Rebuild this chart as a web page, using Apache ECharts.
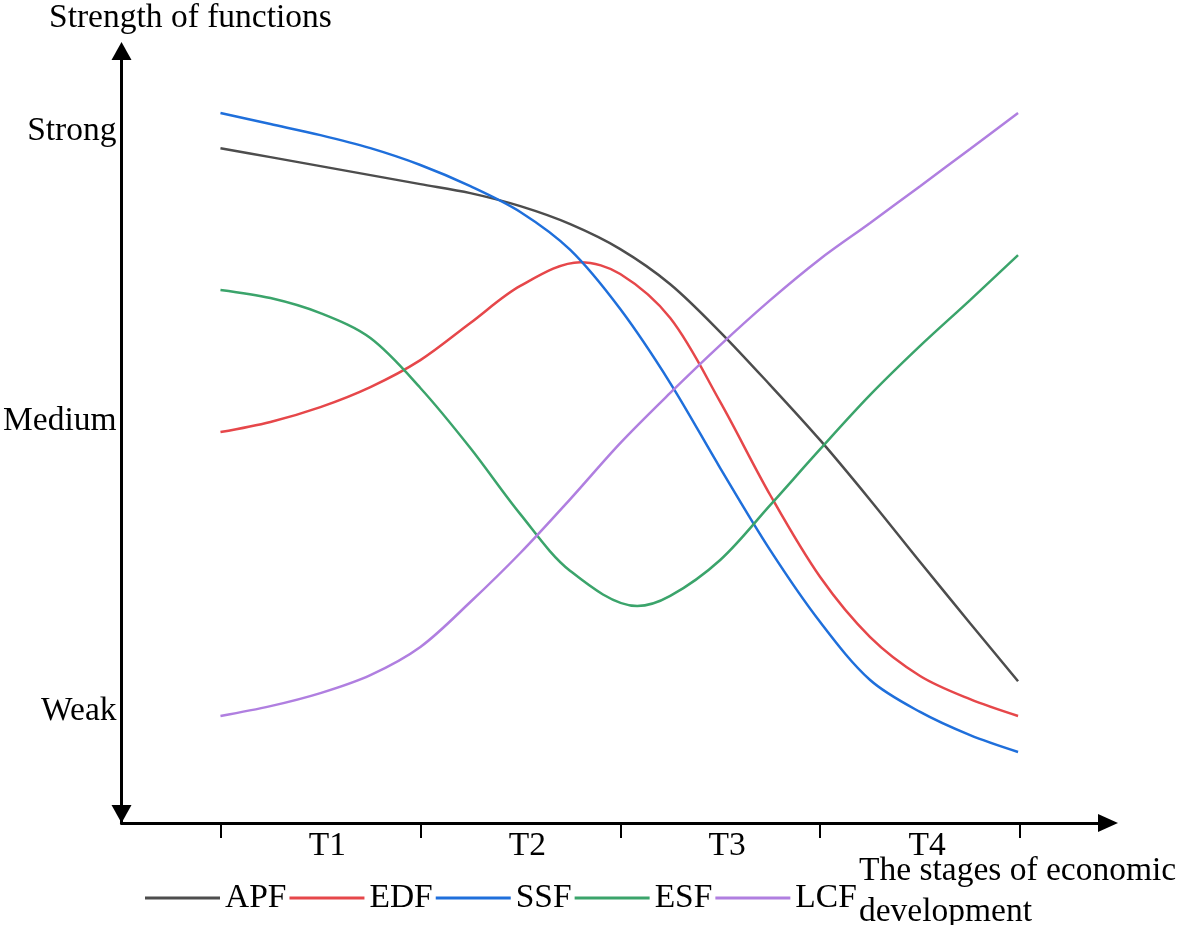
<!doctype html>
<meta charset="utf-8">
<style>
  html, body {
    margin: 0;
    height: 100%;
    background: #fff;
  }

  #chart {
    width: 1184px;
    height: 925px;
  }
</style>
<script src="https://cdn.jsdelivr.net/npm/echarts@6/dist/echarts.min.js"></script>

<div id="chart"></div>

<script>
  // x: position along the stages (0..4 = stage boundaries), y: 1 = Weak, 2 = Medium, 3 = Strong
  const stagePos = [0, 0.25, 0.5, 0.75, 1, 1.25, 1.5, 1.75, 2, 2.25, 2.5, 2.75, 3, 3.25, 3.5, 3.75, 3.99]
  const edfX = [0, 0.25, 0.5, 0.75, 1, 1.25, 1.5, 1.8, 2, 2.25, 2.5, 2.75, 3, 3.25, 3.5, 3.75, 3.99]
  const esfX = [0, 0.25, 0.5, 0.75, 1, 1.25, 1.5, 1.75, 2.085, 2.25, 2.5, 2.75, 3, 3.25, 3.5, 3.75, 3.99]

  const apf = [2.941, 2.91, 2.879, 2.848, 2.817, 2.786, 2.741, 2.679, 2.593, 2.472, 2.307, 2.124, 1.934, 1.728, 1.514, 1.303, 1.103]
  const edf = [1.962, 1.997, 2.048, 2.117, 2.21, 2.338, 2.466, 2.548, 2.507, 2.355, 2.066, 1.745, 1.462, 1.255, 1.121, 1.041, 0.983]
  const ssf = [3.062, 3.024, 2.986, 2.941, 2.883, 2.81, 2.721, 2.59, 2.386, 2.131, 1.838, 1.555, 1.307, 1.107, 0.997, 0.917, 0.859]
  const esf = [2.452, 2.424, 2.372, 2.286, 2.114, 1.907, 1.679, 1.483, 1.362, 1.397, 1.521, 1.71, 1.903, 2.09, 2.259, 2.417, 2.572]
  const lcf = [0.983, 1.017, 1.062, 1.124, 1.221, 1.376, 1.545, 1.731, 1.924, 2.097, 2.262, 2.417, 2.559, 2.683, 2.81, 2.938, 3.062]

  const seriesNames = ['APF', 'EDF', 'SSF', 'ESF', 'LCF']
  const seriesColors = ['#4d4d4d', '#e6474a', '#1f6fdb', '#3ba46b', '#b07fe0']
  const stageLabels = ['T1', 'T2', 'T3', 'T4']
  const stageLabelPos = [0.5, 1.5, 2.5, 3.5]
  const stageBounds = [0, 1, 2, 3, 4]
  const levelNames = { 1: 'Weak', 2: 'Medium', 3: 'Strong' }

  const font = 'Liberation Serif, Times New Roman, serif'
  const textStyle = { fontFamily: font, fontSize: 33.5, color: '#000', fontWeight: 'normal' }

  let chart = echarts.init(document.getElementById('chart'))

  const xs = [stagePos, edfX, stagePos, esfX, stagePos]
  const ys = [apf, edf, ssf, esf, lcf]

  chart.setOption({
    animation: false,
    title: [
      {
        text: 'Strength of functions',
        left: 49,
        top: 0,
        padding: 0,
        textStyle: Object.assign({ lineHeight: 36 }, textStyle),
      },
      {
        text: 'The stages of economic\ndevelopment',
        left: 859,
        top: 851,
        padding: 0,
        textStyle: Object.assign({ lineHeight: 41 }, textStyle),
      },
    ],
    legend: {
      left: 145,
      top: 881,
      padding: 0,
      icon: 'rect',
      itemWidth: 75,
      itemHeight: 3,
      itemGap: 3,
      textStyle: textStyle,
      data: seriesNames,
    },
    grid: {
      left: 121,
      right: 76,
      top: 51,
      bottom: 102,
    },
    xAxis: {
      type: 'value',
      min: -0.495,
      max: 4.44,
      axisLine: {
        onZero: false,
        lineStyle: { color: '#000', width: 3 },
        symbol: ['none', 'triangle'],
        symbolSize: [18, 20],
      },
      axisTick: {
        customValues: stageBounds,
        length: 15,
        lineStyle: { color: '#000', width: 2 },
      },
      axisLabel: {
        customValues: stageLabelPos,
        margin: 6,
        padding: [0, 0, 0, 14],
        formatter: v => stageLabels[stageLabelPos.indexOf(v)],
        fontFamily: font,
        fontSize: 33.5,
        color: '#000',
      },
      splitLine: { show: false },
    },
    yAxis: {
      type: 'value',
      min: 0.614,
      max: 3.276,
      axisLine: {
        show: true,
        onZero: false,
        lineStyle: { color: '#000', width: 3 },
        symbol: ['triangle', 'triangle'],
        symbolSize: [20, 18],
        symbolOffset: [9, 0],
      },
      axisTick: { show: false },
      axisLabel: {
        customValues: [1, 2, 3],
        margin: 5,
        padding: [6, 0, 0, 0],
        formatter: v => levelNames[v],
        fontFamily: font,
        fontSize: 33.5,
        color: '#000',
      },
      splitLine: { show: false },
    },
    series: seriesNames.map((name, i) => ({
      name: name,
      type: 'line',
      smooth: 0.33,
      smoothMonotone: 'none',
      symbol: 'none',
      color: seriesColors[i],
      lineStyle: { width: 2.5, color: seriesColors[i] },
      data: xs[i].map((x, j) => [x, ys[i][j]]),
    })),
  })
</script>
